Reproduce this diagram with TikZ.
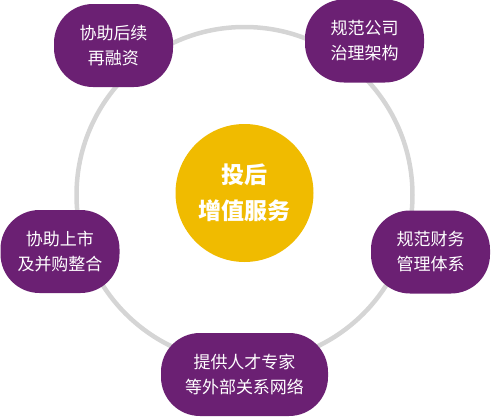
\documentclass[tikz,border=0pt]{standalone}
\usepackage{fontspec}
\newfontfamily\cjk{Noto Sans CJK SC}
\definecolor{ringgray}{HTML}{D5D5D5}
\definecolor{hubgold}{HTML}{F0BB00}
\definecolor{leafpurple}{HTML}{6B2073}
\begin{document}
\begin{tikzpicture}[x=1pt,y=-1pt,
  ring/.style={draw=ringgray,line width=4.5pt},
  hub/.style={circle,fill=hubgold,minimum size=138pt,inner sep=0pt,text=white,align=center,
    font=\cjk\bfseries\fontsize{23}{36}\selectfont},
  leaf/.style={fill=leafpurple,rounded corners=39pt,minimum height=83pt,inner sep=0pt,
    text=white,align=center,font=\cjk\fontsize{17}{25}\selectfont}]
\useasboundingbox (0,0) rectangle (491,416);
\draw[ring] (244.5,195) circle[radius=168];
\node[hub] (hub) at (244.5,193) {投后\\增值服务};
\node[leaf,minimum width=119pt] (refin) at (113.5,45.5) {协助后续\\再融资};
\node[leaf,minimum width=119pt] (gov) at (364.5,41) {规范公司\\治理架构};
\node[leaf,minimum width=119pt] (fin) at (430.5,252) {规范财务\\管理体系};
\node[leaf,minimum width=119pt] (ipo) at (60,251.5) {协助上市\\及并购整合};
\node[leaf,minimum width=167pt] (net) at (244.5,374.5) {提供人才专家\\等外部关系网络};
\end{tikzpicture}
\end{document}
